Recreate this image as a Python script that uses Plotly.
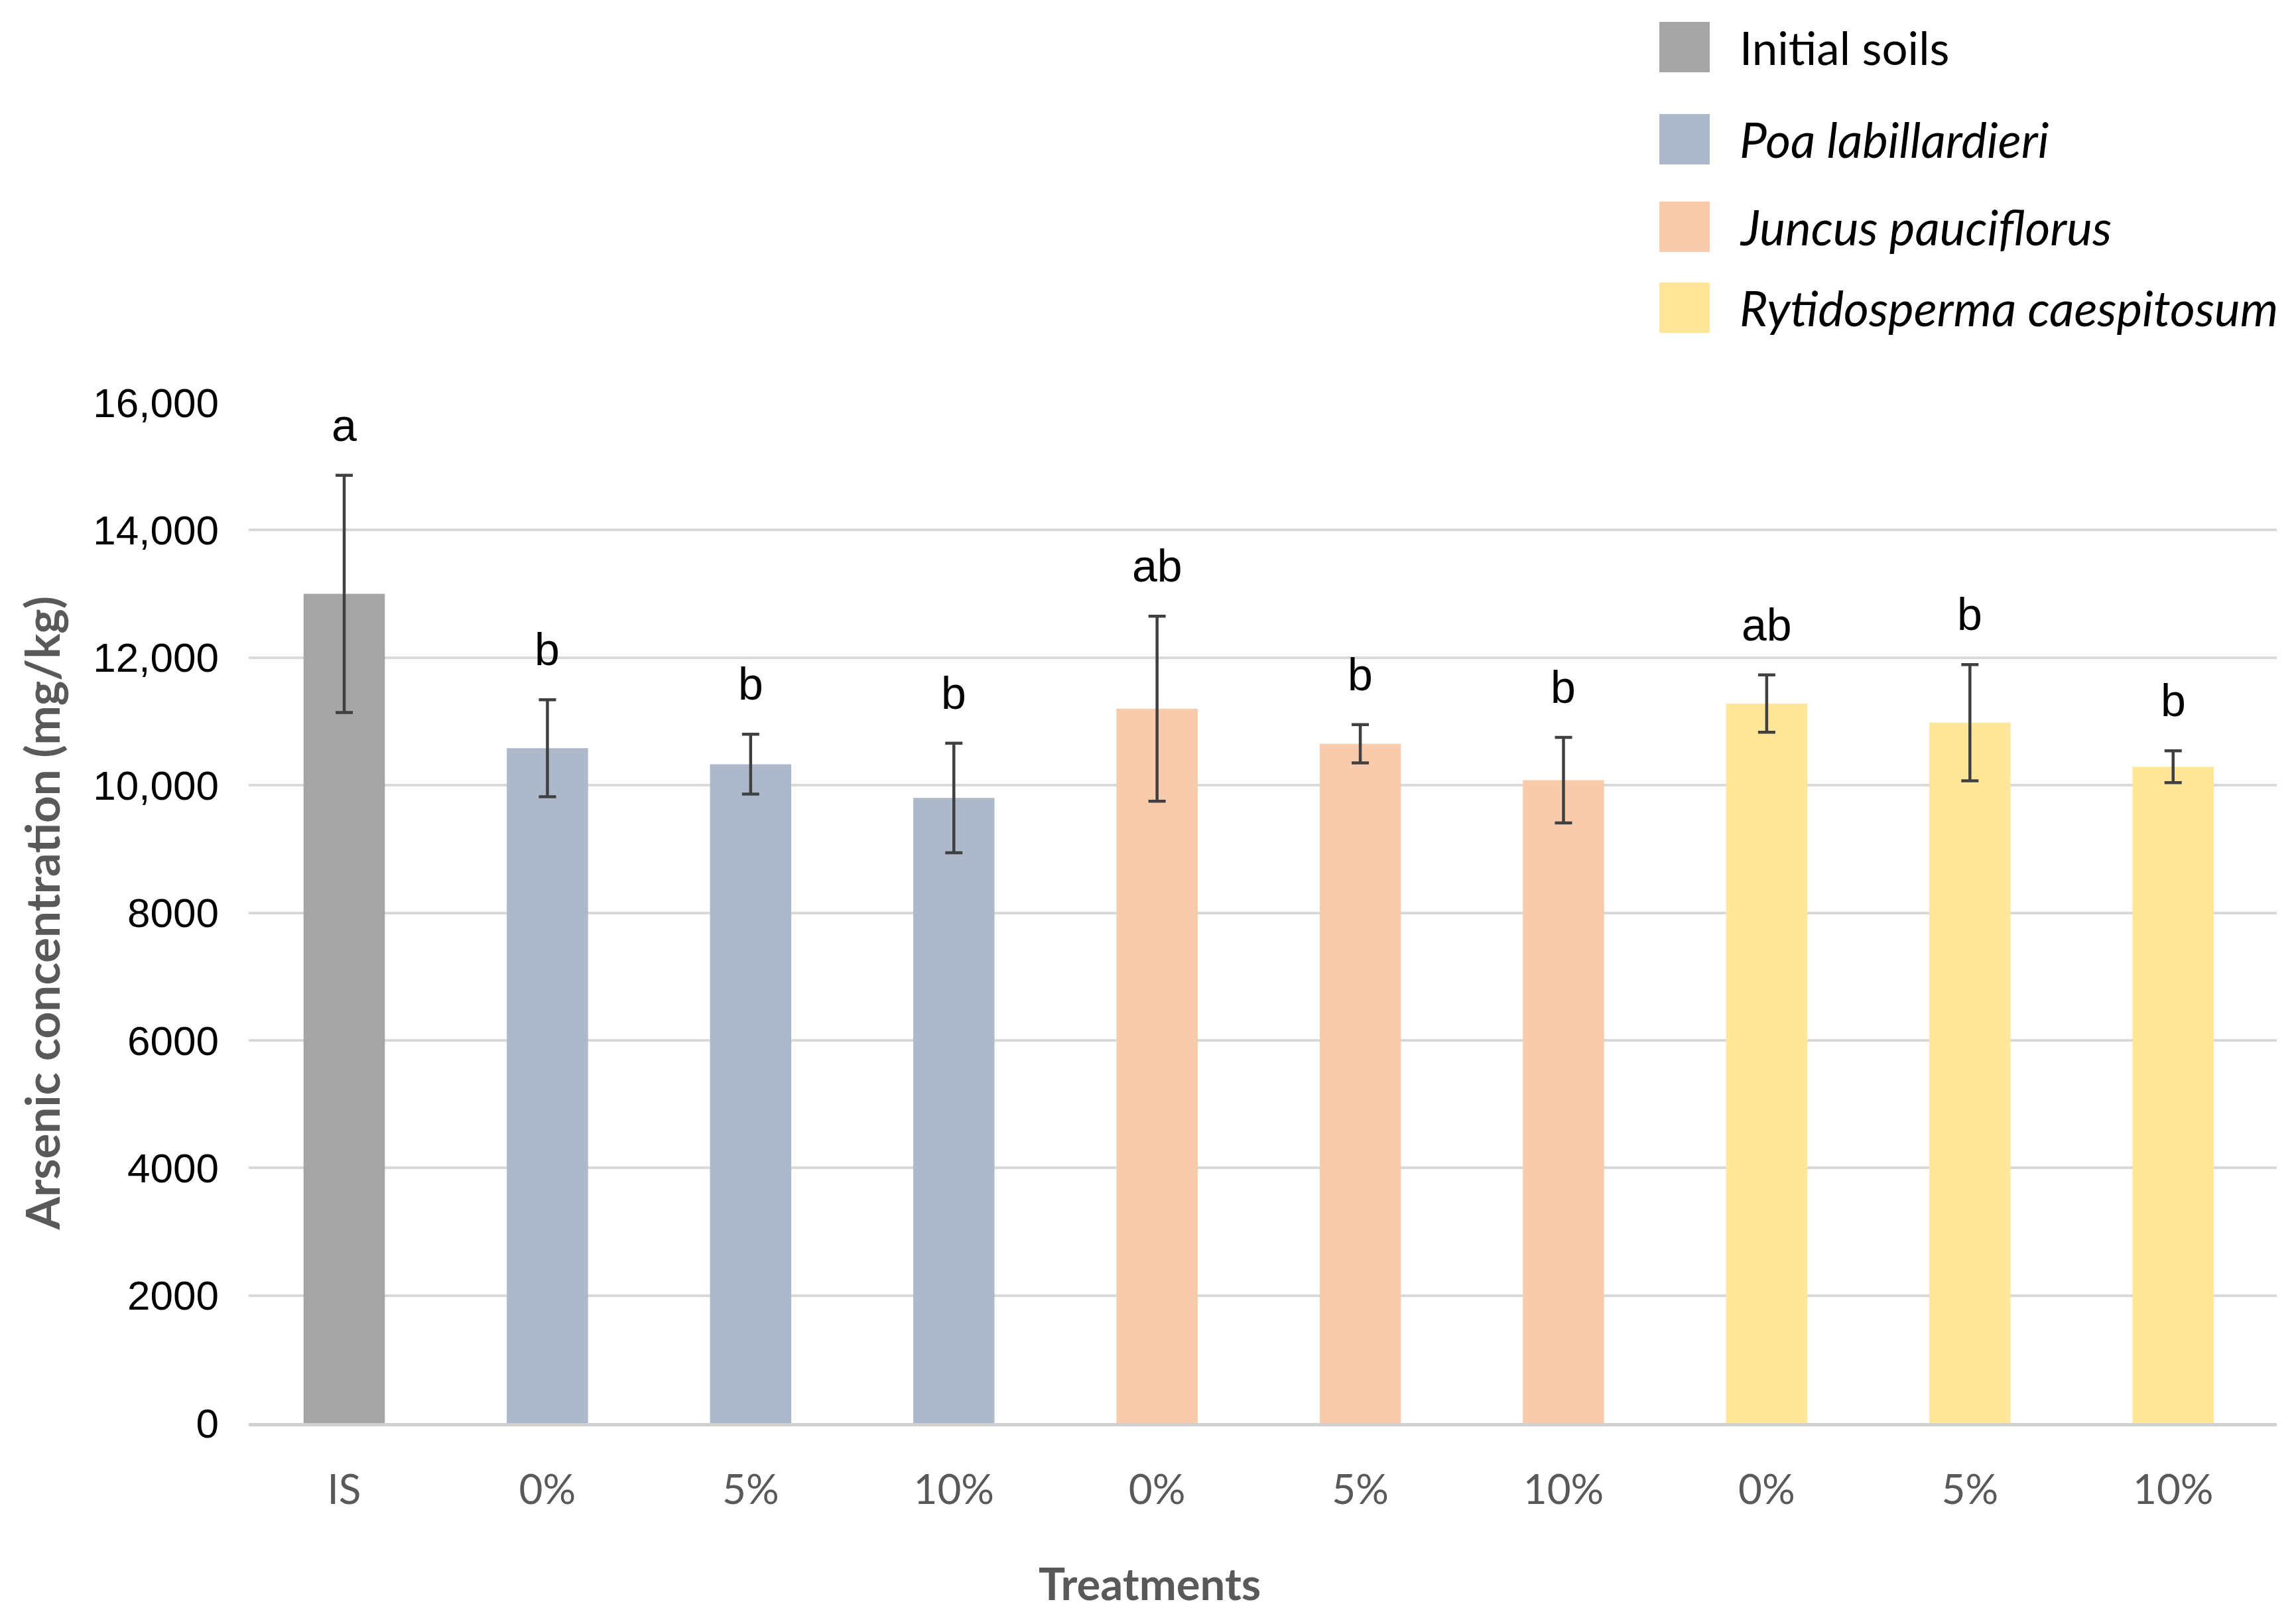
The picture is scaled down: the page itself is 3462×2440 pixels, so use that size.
import plotly.graph_objects as go

# ---------------- data ----------------
groups = ["Initial soils", "Poa labillardieri", "Juncus pauciflorus", "Rytidosperma caespitosum"]
group_italic = [False, True, True, True]
group_colors = ["#a5a5a5", "#adb9ca", "#f8cbad", "#ffe699"]

# treatment ids (unique) and their tick labels
treat_ids = ["IS", "P0", "P5", "P10", "J0", "J5", "J10", "R0", "R5", "R10"]
treat_labels = ["IS", "0%", "5%", "10%", "0%", "5%", "10%", "0%", "5%", "10%"]
treat_group = [0, 1, 1, 1, 2, 2, 2, 3, 3, 3]

arsenic_mean = [13000, 10580, 10330, 9800, 11200, 10650, 10080, 11280, 10980, 10290]
arsenic_err = [1860, 760, 470, 860, 1450, 300, 670, 450, 910, 250]
letters = ["a", "b", "b", "b", "ab", "b", "b", "ab", "b", "b"]

y_ticks = [0, 2000, 4000, 6000, 8000, 10000, 12000, 14000, 16000]
y_tick_text = ["0", "2000", "4000", "6000", "8000", "10,000", "12,000", "14,000", "16,000"]

# ---------------- layout geometry ----------------
OFF = 8  # default page body margin
W, H = 3462 - OFF, 2440 - OFF
ML, MT = 375 - OFF, 607 - OFF
MR = W - (3433 - OFF)
MB = H - (2146 - OFF)
F_CAL = "Lato"
F_ARIAL = "Liberation Sans"

fig = go.Figure()
for gi, gname in enumerate(groups):
    idx = [i for i, g in enumerate(treat_group) if g == gi]
    fig.add_trace(go.Bar(
        x=[treat_ids[i] for i in idx],
        y=[arsenic_mean[i] for i in idx],
        width=0.4,
        name=gname,
        marker=dict(color=group_colors[gi], line=dict(width=0)),
        error_y=dict(type="data", array=[arsenic_err[i] for i in idx],
                     color="#404040", thickness=4.5, width=13, visible=True),
        showlegend=False,
    ))

# significance letters
for i, t in enumerate(treat_ids):
    fig.add_annotation(
        x=t, y=arsenic_mean[i] + arsenic_err[i], xref="x", yref="y",
        text=letters[i], showarrow=False, yanchor="middle", yshift=76,
        font=dict(family=F_ARIAL, size=68, color="#000000"),
    )

pw = W - ML - MR
ph = H - MT - MB
def px2paper_x(px):
    return (px - OFF - ML) / pw
def px2paper_y(py):
    return (H - MB - (py - OFF)) / ph

# manual legend (large swatches like the original)
leg_rows_y = [71, 210, 342, 464]
sw_x0, sw_x1 = 2502, 2578
sw_half = 38
text_x = 2621
for gi, gname in enumerate(groups):
    cy = leg_rows_y[gi]
    fig.add_shape(type="rect", xref="paper", yref="paper",
                  x0=px2paper_x(sw_x0), x1=px2paper_x(sw_x1),
                  y0=px2paper_y(cy + sw_half), y1=px2paper_y(cy - sw_half),
                  fillcolor=group_colors[gi], line=dict(width=0))
    label = f"<i>{gname}</i>" if group_italic[gi] else gname
    fig.add_annotation(xref="paper", yref="paper",
                       x=px2paper_x(text_x), y=px2paper_y(cy),
                       xanchor="left", yanchor="middle", showarrow=False,
                       text=label,
                       font=dict(family=F_CAL, size=73 if group_italic[gi] else 69,
                                 color="#000000"))

# x-axis title (off-centre in the original)
fig.add_annotation(xref="paper", yref="paper",
                   x=px2paper_x(1733), y=px2paper_y(2387),
                   xanchor="center", yanchor="middle", showarrow=False,
                   text="<b>Treatments</b>",
                   font=dict(family=F_CAL, size=67, color="#595959"))

fig.update_layout(
    width=W, height=H,
    margin=dict(l=ML, r=MR, t=MT, b=MB, autoexpand=False),
    paper_bgcolor="white", plot_bgcolor="white",
    barmode="overlay",
    showlegend=False,
    font=dict(family=F_CAL, size=50, color="#000000"),
)
fig.update_xaxes(
    categoryorder="array", categoryarray=treat_ids,
    tickmode="array", tickvals=treat_ids, ticktext=treat_labels,
    range=[-0.47, 9.51],
    showgrid=False, showline=True, linecolor="#d0d0d0", linewidth=5,
    ticks="", ticklabelstandoff=43,
    tickfont=dict(family=F_CAL, size=62, color="#595959"),
)
fig.update_yaxes(
    range=[0, 16000], tickmode="array", tickvals=y_ticks, ticktext=y_tick_text,
    showgrid=True, gridcolor="#d9d9d9", gridwidth=4,
    zeroline=False, showline=False, ticks="", ticklabelstandoff=44,
    tickfont=dict(family=F_ARIAL, size=62, color="#000000"),
    title=dict(text="<b>Arsenic concentration (mg/kg)</b>", standoff=26,
               font=dict(family=F_CAL, size=71, color="#595959")),
)

fig.write_html("out.html")
